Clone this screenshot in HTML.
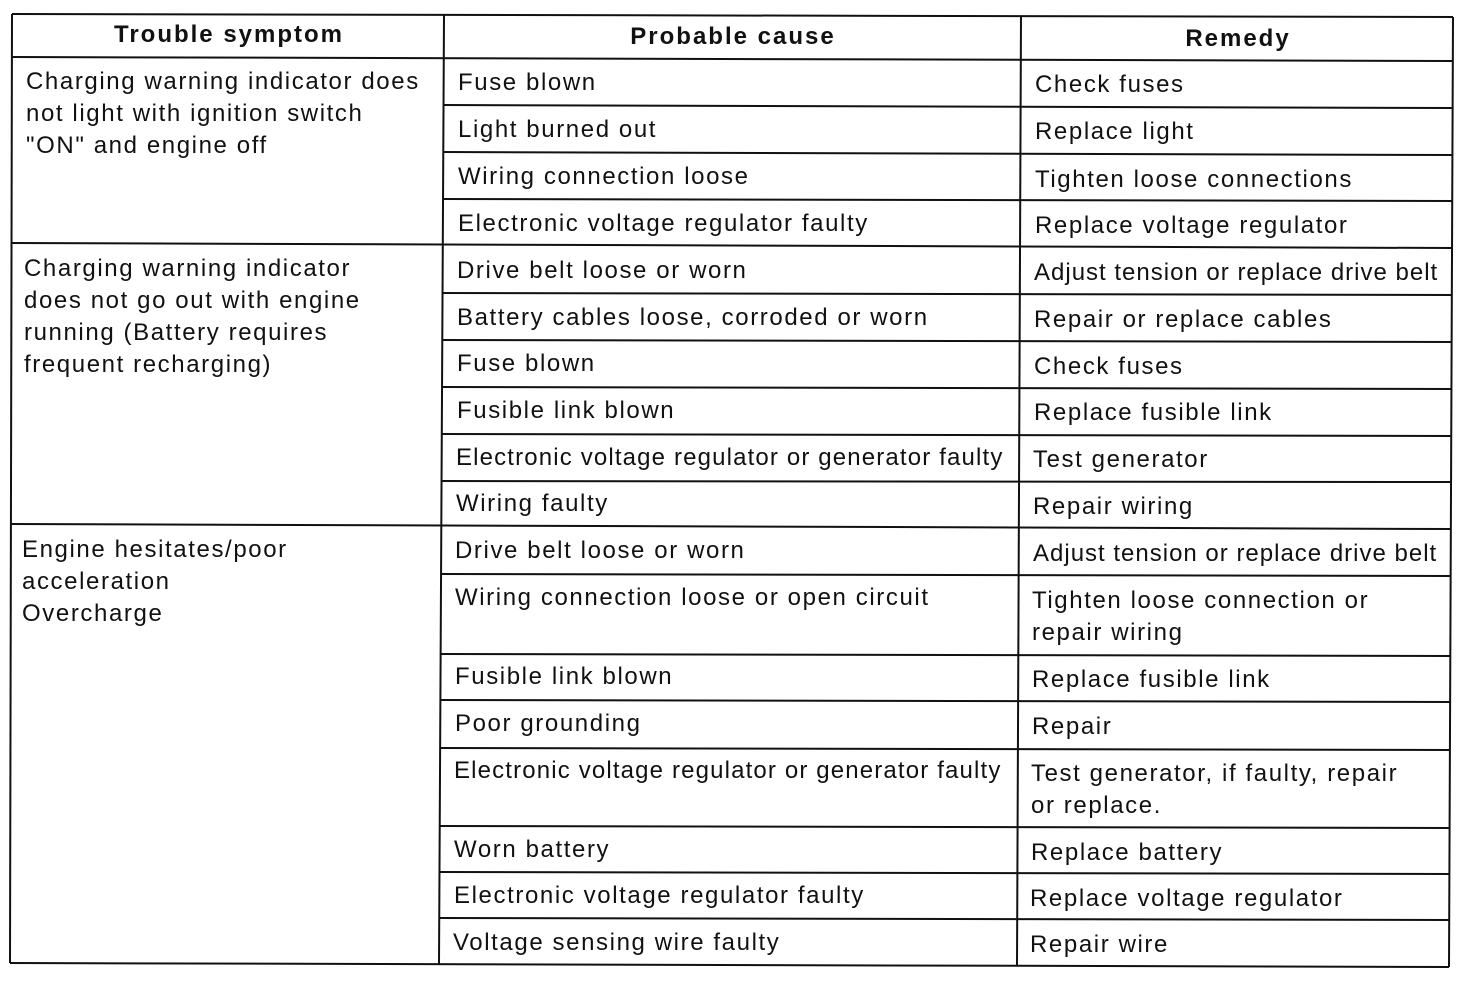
<!DOCTYPE html>
<html><head><meta charset="utf-8"><style>
html,body{margin:0;padding:0;background:#fff;}
svg{display:block;}
text{font-family:"Liberation Sans",Arial,sans-serif;font-size:24px;fill:#111;letter-spacing:1.6px;}
.h{font-weight:bold;text-anchor:middle;letter-spacing:2px;}
.t{letter-spacing:1.15px;}
.a{letter-spacing:1.0px;}
</style></head><body>
<svg width="1472" height="982" viewBox="0 0 1472 982" xmlns="http://www.w3.org/2000/svg">
<g stroke="#111" stroke-width="2" fill="none">
<line x1="12" y1="14" x2="1453" y2="17"/>
<line x1="12" y1="14" x2="10" y2="963"/>
<line x1="1453" y1="17" x2="1449" y2="967"/>
<line x1="10" y1="963" x2="1449" y2="967"/>
<line x1="444" y1="15" x2="439" y2="964"/>
<line x1="1021" y1="16" x2="1017" y2="966"/>
<line x1="12" y1="57" x2="1453" y2="61"/>
<line x1="11" y1="243" x2="1452" y2="248"/>
<line x1="10" y1="524" x2="1451" y2="529"/>
<line x1="443" y1="105" x2="1453" y2="108"/>
<line x1="443" y1="152" x2="1453" y2="155"/>
<line x1="443" y1="199" x2="1453" y2="201"/>
<line x1="442" y1="293" x2="1452" y2="295"/>
<line x1="442" y1="340" x2="1452" y2="342"/>
<line x1="442" y1="387" x2="1452" y2="389"/>
<line x1="442" y1="434" x2="1452" y2="436"/>
<line x1="441" y1="481" x2="1451" y2="482"/>
<line x1="441" y1="574" x2="1451" y2="576"/>
<line x1="441" y1="654" x2="1451" y2="656"/>
<line x1="440" y1="700" x2="1450" y2="702"/>
<line x1="440" y1="748" x2="1450" y2="750"/>
<line x1="440" y1="826" x2="1450" y2="828"/>
<line x1="440" y1="872" x2="1450" y2="874"/>
<line x1="439" y1="918" x2="1449" y2="920"/>
</g>
<text class="h" x="229" y="42">Trouble symptom</text>
<text class="h" x="733" y="44">Probable cause</text>
<text class="h" x="1238" y="46">Remedy</text>

<text x="26" y="89">Charging warning indicator does</text>
<text x="26" y="121">not light with ignition switch</text>
<text x="26" y="153">"ON" and engine off</text>
<text x="24" y="276">Charging warning indicator</text>
<text x="24" y="308">does not go out with engine</text>
<text x="24" y="340">running (Battery requires</text>
<text x="24" y="372">frequent recharging)</text>
<text x="22" y="557">Engine hesitates/poor</text>
<text x="22" y="589">acceleration</text>
<text x="22" y="621">Overcharge</text>

<text x="458" y="90">Fuse blown</text>
<text x="458" y="137">Light burned out</text>
<text x="458" y="184">Wiring connection loose</text>
<text x="458" y="231">Electronic voltage regulator faulty</text>
<text x="457" y="278">Drive belt loose or worn</text>
<text x="457" y="325">Battery cables loose, corroded or worn</text>
<text x="457" y="371">Fuse blown</text>
<text x="457" y="418">Fusible link blown</text>
<text class="t" x="456" y="465">Electronic voltage regulator or generator faulty</text>
<text x="456" y="511">Wiring faulty</text>
<text x="455" y="558">Drive belt loose or worn</text>
<text x="455" y="605">Wiring connection loose or open circuit</text>
<text x="455" y="684">Fusible link blown</text>
<text x="455" y="731">Poor grounding</text>
<text class="t" x="454" y="778">Electronic voltage regulator or generator faulty</text>
<text x="454" y="857">Worn battery</text>
<text x="454" y="903">Electronic voltage regulator faulty</text>
<text x="453" y="950">Voltage sensing wire faulty</text>

<text x="1035" y="92">Check fuses</text>
<text x="1035" y="139">Replace light</text>
<text x="1035" y="187">Tighten loose connections</text>
<text x="1035" y="233">Replace voltage regulator</text>
<text class="a" x="1034" y="280">Adjust tension or replace drive belt</text>
<text x="1034" y="327">Repair or replace cables</text>
<text x="1034" y="374">Check fuses</text>
<text x="1034" y="420">Replace fusible link</text>
<text x="1033" y="467">Test generator</text>
<text x="1033" y="514">Repair wiring</text>
<text class="a" x="1033" y="561">Adjust tension or replace drive belt</text>
<text x="1032" y="608">Tighten loose connection or</text>
<text x="1032" y="640">repair wiring</text>
<text x="1032" y="687">Replace fusible link</text>
<text x="1032" y="734">Repair</text>
<text x="1031" y="781">Test generator, if faulty, repair</text>
<text x="1031" y="813">or replace.</text>
<text x="1031" y="860">Replace battery</text>
<text x="1030" y="906">Replace voltage regulator</text>
<text x="1030" y="952">Repair wire</text>
</svg>
</body></html>
